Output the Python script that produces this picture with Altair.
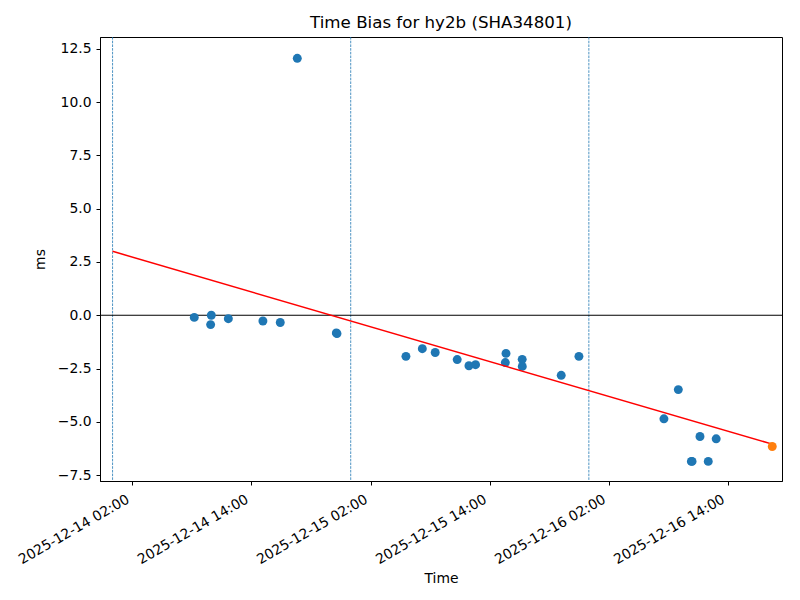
import altair as alt
import pandas as pd

# Observations (local time) and time bias in ms
times = [
    "2025-12-14T08:14:00", "2025-12-14T09:57:00", "2025-12-14T09:53:00",
    "2025-12-14T11:40:00", "2025-12-14T15:09:00", "2025-12-14T16:54:00",
    "2025-12-14T18:37:00", "2025-12-14T22:33:00", "2025-12-14T22:37:00",
    "2025-12-15T05:34:00", "2025-12-15T07:13:00", "2025-12-15T08:31:00",
    "2025-12-15T10:44:00", "2025-12-15T11:55:00", "2025-12-15T12:35:00",
    "2025-12-15T15:35:00", "2025-12-15T15:39:00", "2025-12-15T17:17:00",
    "2025-12-15T17:17:30", "2025-12-15T21:13:00", "2025-12-15T23:00:00",
    "2025-12-16T07:34:00", "2025-12-16T09:01:00", "2025-12-16T10:20:00",
    "2025-12-16T10:24:00", "2025-12-16T11:12:00", "2025-12-16T12:02:00",
    "2025-12-16T12:50:00",
]
bias = [
    -0.10, 0.00, -0.44,
    -0.16, -0.27, -0.34,
    12.06, -0.83, -0.86,
    -1.93, -1.57, -1.75,
    -2.08, -2.37, -2.32,
    -2.22, -1.79, -2.07,
    -2.40, -2.82, -1.93,
    -4.86, -3.49, -6.86,
    -6.86, -5.69, -6.86,
    -5.80,
]
latest_time = ["2025-12-16T18:29:00"]
latest_bias = [-6.16]

fit_times = ["2025-12-14T00:00:00", "2025-12-16T18:29:00"]
fit_bias = [3.0, -6.05]

midnights = ["2025-12-14T00:00:00", "2025-12-15T00:00:00", "2025-12-16T00:00:00"]

tick_dt = [(14, 2), (14, 14), (15, 2), (15, 14), (16, 2), (16, 14)]
y_ticks = [-7.5, -5.0, -2.5, 0.0, 2.5, 5.0, 7.5, 10.0, 12.5]

FONT = "DejaVu Sans"
FS = 13.9

pts = pd.DataFrame({"t": times, "v": bias})
last = pd.DataFrame({"t": latest_time, "v": latest_bias})
fit = pd.DataFrame({"t": fit_times, "v": fit_bias})
mid = pd.DataFrame({"t": midnights})
zero = pd.DataFrame({"v": [0.0]})

x_scale = alt.Scale(
    domain=[alt.DateTime(year=2025, month=12, date=13, hours=22, minutes=44),
            alt.DateTime(year=2025, month=12, date=16, hours=19, minutes=28)],
    nice=False,
)
y_scale = alt.Scale(domain=[-7.78, 13.06], nice=False, zero=False)

x_axis = alt.Axis(
    values=[alt.DateTime(year=2025, month=12, date=d, hours=h) for d, h in tick_dt],
    format="%Y-%m-%d %H:%M",
    labelAngle=330,
    labelAlign="right",
    labelBaseline="top",
    labelPadding=7,
    labelOffset=-8,
    labelBound=False,
    labelOverlap=False,
    grid=False,
    tickSize=4,
    tickColor="black",
    domainColor="black",
    labelColor="black",
    labelFont=FONT,
    labelFontSize=FS,
    title="Time",
    titleFont=FONT,
    titleFontSize=FS,
    titleFontWeight="normal",
    titleColor="black",
    titlePadding=5,
)
y_axis = alt.Axis(
    values=y_ticks,
    format=".1f",
    grid=False,
    tickSize=4,
    tickColor="black",
    domainColor="black",
    labelColor="black",
    labelFont=FONT,
    labelFontSize=FS,
    labelPadding=5,
    title="ms",
    titleFont=FONT,
    titleFontSize=FS,
    titleFontWeight="normal",
    titleColor="black",
    titlePadding=10,
)

X = alt.X("t:T", scale=x_scale, axis=x_axis)
Y = alt.Y("v:Q", scale=y_scale, axis=y_axis)

mid_rules = alt.Chart(mid).mark_rule(
    color="#1f77b4", strokeWidth=0.8, strokeDash=[2.6, 1.1]
).encode(x=alt.X("t:T", scale=x_scale, axis=x_axis))

zero_rule = alt.Chart(zero).mark_rule(color="black", strokeWidth=1.1).encode(
    y=alt.Y("v:Q", scale=y_scale, axis=y_axis)
)

points = alt.Chart(pts).mark_circle(size=80, color="#1f77b4", opacity=1).encode(x=X, y=Y)

fit_line = alt.Chart(fit).mark_line(color="red", strokeWidth=1.5).encode(x=X, y=Y)

last_pt = alt.Chart(last).mark_circle(size=80, color="#ff7f0e", opacity=1).encode(x=X, y=Y)

chart = alt.layer(mid_rules, zero_rule, points, fit_line, last_pt).properties(
    width=682,
    height=444,
    title=alt.TitleParams(
        "Time Bias for hy2b (SHA34801)",
        font=FONT, fontSize=16.67, fontWeight="normal", color="black", offset=5,
    ),
    autosize=alt.AutoSizeParams(type="none"),
    padding={"left": 92, "top": 29, "right": 10, "bottom": 111},
).configure_view(stroke="black", strokeWidth=1)

chart.save("out.html", embed_options={"renderer": "svg", "actions": False})
